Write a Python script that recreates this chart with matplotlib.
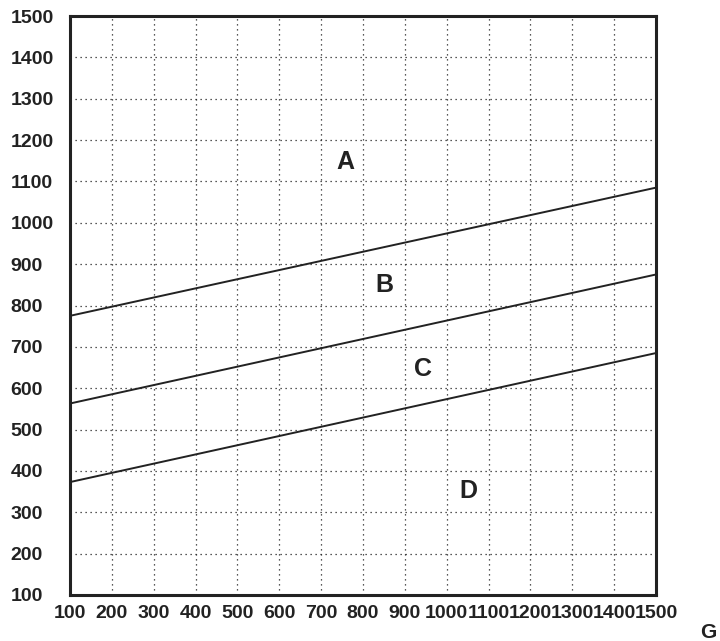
import numpy as np
import matplotlib
matplotlib.use('Agg')
import matplotlib.pyplot as plt

plt.rcParams['font.family'] = ['Liberation Sans', 'DejaVu Sans']

# limites des droites (valeur a x=100 et x=1500)
x_ends = [100, 1500]
line_ab = [775, 1085]
line_bc = [563, 875]
line_cd = [373, 685]

zone_labels = ['A', 'B', 'C', 'D']
zone_x = [757, 850, 943, 1051]
zone_y = [1147, 850, 647, 352]

ticks = list(range(100, 1501, 100))

fig = plt.figure(figsize=(7.2, 6.41), dpi=100)
ax = fig.add_axes([0.0972, 0.0718, 0.8139, 0.9032])

for vals in [line_ab, line_bc, line_cd]:
    ax.plot(x_ends, vals, color='#222222', lw=1.4)

for lab, xx, yy in zip(zone_labels, zone_x, zone_y):
    ax.text(xx, yy, lab, fontsize=18, fontweight='bold', ha='center', va='center', color='#222222')

ax.set_xlim(100, 1500)
ax.set_ylim(100, 1500)
ax.set_xticks(ticks)
ax.set_yticks(ticks)
ax.grid(True, linestyle=(0, (1, 3)), color='#222222', lw=0.9)
ax.tick_params(length=0, labelsize=14, colors='#222222')
ax.tick_params(axis='x', pad=7)
ax.tick_params(axis='y', pad=43)
for lbl in ax.get_xticklabels() + ax.get_yticklabels():
    lbl.set_fontweight('bold')
for lbl in ax.get_yticklabels():
    lbl.set_horizontalalignment('left')
for s in ax.spines.values():
    s.set_linewidth(2.2)
    s.set_color('#222222')

fig.text(708 / 720, 1 - 632 / 641, 'G', fontsize=15, fontweight='bold', ha='center', va='center', color='#222222')

fig.savefig('out.png', dpi=100)
